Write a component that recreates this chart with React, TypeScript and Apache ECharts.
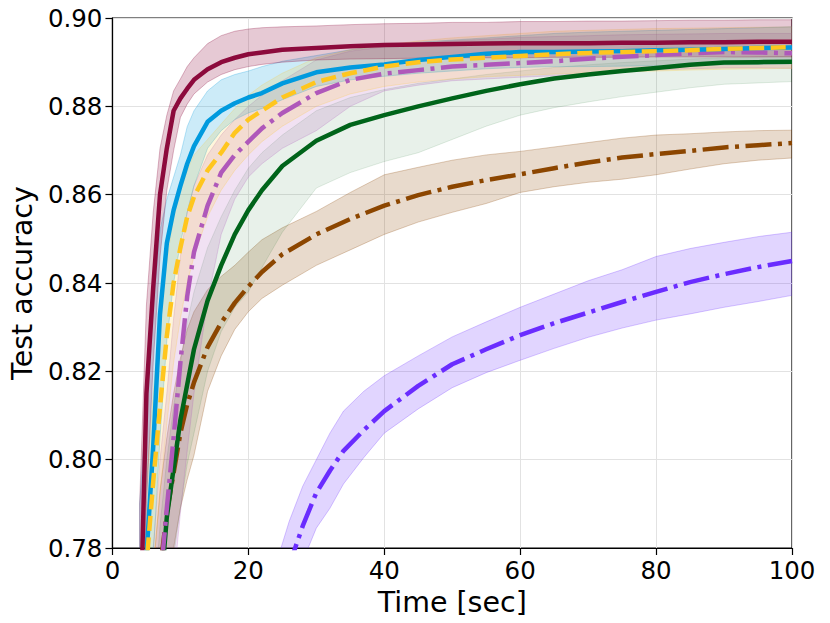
import React, { useEffect, useRef } from "react";
import * as echarts from "echarts";

// Shared time grid (sec) for the first six methods
const X = [4, 5, 6, 7, 8, 9, 10, 11, 12, 14, 16, 18, 20, 22, 25, 30, 35, 40, 45, 50, 55, 60, 65, 70, 75, 80, 85, 90, 95, 100];

const maroonMean = [0.755, 0.815, 0.839, 0.860, 0.8705, 0.879, 0.8818, 0.884, 0.886, 0.8884, 0.890, 0.891, 0.8918, 0.8922, 0.8928, 0.8932, 0.8936, 0.8939, 0.894, 0.8941, 0.8942, 0.8943, 0.8943, 0.8943, 0.8944, 0.8944, 0.8945, 0.8945, 0.8946, 0.8946];
const maroonHi = [0.79, 0.835, 0.856, 0.8705, 0.878, 0.8835, 0.8862, 0.889, 0.891, 0.8942, 0.896, 0.897, 0.8975, 0.8978, 0.898, 0.8982, 0.8985, 0.8987, 0.8988, 0.899, 0.899, 0.8992, 0.8992, 0.8993, 0.8993, 0.8994, 0.8995, 0.8995, 0.8996, 0.8996];
const maroonLo = [0.73, 0.79, 0.822, 0.846, 0.861, 0.870, 0.8775, 0.8805, 0.8828, 0.8855, 0.8872, 0.8883, 0.889, 0.8895, 0.89, 0.8905, 0.8907, 0.8908, 0.8909, 0.891, 0.891, 0.891, 0.8911, 0.8911, 0.8911, 0.8912, 0.8912, 0.8912, 0.8912, 0.8912];

const blueMean = [0.755, 0.778, 0.803, 0.833, 0.849, 0.8565, 0.862, 0.867, 0.871, 0.8765, 0.879, 0.8807, 0.882, 0.883, 0.8852, 0.8877, 0.8888, 0.8895, 0.8905, 0.8912, 0.8919, 0.8923, 0.8923, 0.8924, 0.8925, 0.8927, 0.8928, 0.893, 0.8932, 0.8933];
const blueHi = [0.79, 0.812, 0.835, 0.852, 0.859, 0.864, 0.869, 0.8754, 0.879, 0.8835, 0.886, 0.8872, 0.888, 0.889, 0.8902, 0.8915, 0.8928, 0.8938, 0.8945, 0.895, 0.8955, 0.896, 0.8965, 0.8968, 0.897, 0.8972, 0.8974, 0.8976, 0.8978, 0.898];
const blueLo = [0.73, 0.755, 0.778, 0.805, 0.827, 0.840, 0.849, 0.856, 0.862, 0.8705, 0.8745, 0.877, 0.8785, 0.8795, 0.8815, 0.8845, 0.886, 0.8868, 0.8875, 0.888, 0.8885, 0.8888, 0.889, 0.889, 0.8891, 0.8892, 0.8893, 0.8894, 0.8895, 0.8896];

const yellowMean = [0.745, 0.776, 0.795, 0.812, 0.828, 0.840, 0.848, 0.855, 0.8595, 0.8655, 0.8695, 0.874, 0.877, 0.879, 0.882, 0.8855, 0.8875, 0.889, 0.89, 0.8906, 0.891, 0.8914, 0.8918, 0.8921, 0.8923, 0.8925, 0.8927, 0.893, 0.8932, 0.8934];
const yellowHi = [0.77, 0.795, 0.815, 0.832, 0.845, 0.855, 0.861, 0.8655, 0.869, 0.8725, 0.876, 0.8795, 0.8825, 0.8848, 0.8875, 0.891, 0.8928, 0.8938, 0.8948, 0.8955, 0.896, 0.8965, 0.897, 0.8972, 0.8974, 0.8976, 0.8977, 0.8978, 0.8979, 0.898];
const yellowLo = [0.72, 0.755, 0.775, 0.792, 0.808, 0.822, 0.832, 0.84, 0.846, 0.855, 0.861, 0.8655, 0.869, 0.872, 0.8755, 0.88, 0.8828, 0.8845, 0.8855, 0.8862, 0.8867, 0.887, 0.8873, 0.8876, 0.8878, 0.888, 0.8882, 0.8884, 0.8885, 0.8886];

const purpleMean = [0.70, 0.725, 0.75, 0.772, 0.789, 0.805, 0.822, 0.837, 0.847, 0.8575, 0.865, 0.869, 0.872, 0.875, 0.8785, 0.883, 0.886, 0.8874, 0.8882, 0.889, 0.8894, 0.8898, 0.8902, 0.8908, 0.8912, 0.8916, 0.892, 0.8923, 0.8922, 0.892];
const purpleHi = [0.73, 0.755, 0.78, 0.80, 0.815, 0.832, 0.846, 0.856, 0.862, 0.869, 0.8735, 0.877, 0.88, 0.8825, 0.8858, 0.8905, 0.8925, 0.8935, 0.8942, 0.8948, 0.8952, 0.8956, 0.8958, 0.896, 0.8962, 0.8963, 0.8964, 0.8965, 0.8965, 0.8965];
const purpleLo = [0.67, 0.69, 0.71, 0.735, 0.755, 0.772, 0.788, 0.802, 0.815, 0.836, 0.851, 0.859, 0.864, 0.867, 0.8705, 0.8745, 0.88, 0.8835, 0.8848, 0.8858, 0.8862, 0.8866, 0.8869, 0.8874, 0.8878, 0.8882, 0.8885, 0.8887, 0.8887, 0.8886];

const greenMean = [0.69, 0.715, 0.745, 0.768, 0.787, 0.798, 0.809, 0.817, 0.825, 0.836, 0.844, 0.851, 0.8565, 0.861, 0.8665, 0.8722, 0.8758, 0.878, 0.88, 0.8818, 0.8835, 0.885, 0.8863, 0.8872, 0.888, 0.8887, 0.8894, 0.8899, 0.89, 0.8901];
const greenHi = [0.71, 0.74, 0.765, 0.785, 0.80, 0.812, 0.822, 0.831, 0.838, 0.848, 0.855, 0.861, 0.866, 0.8695, 0.8735, 0.879, 0.882, 0.8838, 0.8852, 0.8862, 0.8872, 0.888, 0.8888, 0.8894, 0.8899, 0.8903, 0.8907, 0.891, 0.8912, 0.8913];
const greenLo = [0.66, 0.69, 0.72, 0.745, 0.765, 0.778, 0.789, 0.799, 0.806, 0.82, 0.829, 0.8345, 0.838, 0.8435, 0.8515, 0.8615, 0.865, 0.8675, 0.8695, 0.8725, 0.8755, 0.878, 0.8797, 0.881, 0.8822, 0.8832, 0.8842, 0.885, 0.8853, 0.8856];

const brownMean = [0.70, 0.725, 0.755, 0.775, 0.788, 0.797, 0.806, 0.8125, 0.8175, 0.8255, 0.831, 0.8355, 0.8392, 0.8425, 0.8465, 0.851, 0.8545, 0.8575, 0.8599, 0.8618, 0.8633, 0.8646, 0.866, 0.8673, 0.8684, 0.8692, 0.8699, 0.8707, 0.8712, 0.8717];
const brownHi = [0.72, 0.745, 0.775, 0.793, 0.805, 0.815, 0.823, 0.8295, 0.8335, 0.8385, 0.8415, 0.844, 0.847, 0.8498, 0.8525, 0.8562, 0.8605, 0.8645, 0.8662, 0.8678, 0.869, 0.8698, 0.8708, 0.8718, 0.8728, 0.8735, 0.8738, 0.8742, 0.8745, 0.8746];
const brownLo = [0.68, 0.705, 0.735, 0.757, 0.77, 0.78, 0.789, 0.7955, 0.801, 0.8155, 0.8235, 0.8295, 0.8335, 0.8365, 0.8395, 0.844, 0.8475, 0.851, 0.8538, 0.856, 0.858, 0.8605, 0.8618, 0.8628, 0.8635, 0.8645, 0.8658, 0.867, 0.8678, 0.8683];

// Slowest method has its own time grid
const XV = [24, 26, 28, 30, 32, 34, 37, 40, 45, 50, 55, 60, 65, 70, 75, 80, 85, 90, 95, 100];
const violetMean = [0.766, 0.776, 0.785, 0.7925, 0.7975, 0.802, 0.8067, 0.811, 0.8167, 0.8216, 0.825, 0.8282, 0.8309, 0.8333, 0.8357, 0.838, 0.8402, 0.842, 0.8436, 0.845];
const violetHi = [0.776, 0.786, 0.794, 0.80, 0.806, 0.811, 0.8155, 0.819, 0.8235, 0.8278, 0.8312, 0.8345, 0.8375, 0.8405, 0.843, 0.846, 0.8478, 0.8492, 0.8505, 0.8515];
const violetLo = [0.758, 0.768, 0.777, 0.7845, 0.789, 0.7945, 0.8005, 0.806, 0.8115, 0.8163, 0.8197, 0.8225, 0.8252, 0.8277, 0.8298, 0.8316, 0.833, 0.8345, 0.8358, 0.8372];

const yTicks = [0.78, 0.8, 0.82, 0.84, 0.86, 0.88, 0.9];

const DASHED = [15, 6.5];
const DASHDOT = [26, 6.5, 4, 6.5];

type Spec = { key: string; xs: number[]; mean: number[]; lo: number[]; hi: number[]; rgb: [number, number, number]; alpha: number; dash: any };

const SPECS: Spec[] = [
  { key: "violet", xs: XV, mean: violetMean, lo: violetLo, hi: violetHi, rgb: [106, 44, 255], alpha: 0.2, dash: DASHDOT },
  { key: "brown", xs: X, mean: brownMean, lo: brownLo, hi: brownHi, rgb: [140, 70, 0], alpha: 0.2, dash: DASHDOT },
  { key: "green", xs: X, mean: greenMean, lo: greenLo, hi: greenHi, rgb: [0, 100, 26], alpha: 0.09, dash: "solid" },
  { key: "purple", xs: X, mean: purpleMean, lo: purpleLo, hi: purpleHi, rgb: [175, 88, 186], alpha: 0.18, dash: DASHDOT },
  { key: "blue", xs: X, mean: blueMean, lo: blueLo, hi: blueHi, rgb: [0, 154, 222], alpha: 0.2, dash: "solid" },
  { key: "yellow", xs: X, mean: yellowMean, lo: yellowLo, hi: yellowHi, rgb: [255, 198, 30], alpha: 0.16, dash: DASHED },
  { key: "maroon", xs: X, mean: maroonMean, lo: maroonLo, hi: maroonHi, rgb: [140, 10, 60], alpha: 0.22, dash: "solid" },
];

const rgba = (c: [number, number, number], a: number) => `rgba(${c[0]},${c[1]},${c[2]},${a})`;

function bandSeries(s: Spec) {
  return {
    type: "custom",
    name: s.key + "-band",
    silent: true,
    z: 1,
    data: s.xs.map((x, i) => [x, s.lo[i], s.hi[i]]),
    encode: { x: 0, y: [1, 2] },
    renderItem: (params: any, api: any) => {
      if (params.dataIndex !== 0) return null;
      const upper = s.xs.map((x, i) => api.coord([x, s.hi[i]]));
      const lower = s.xs.map((x, i) => api.coord([x, s.lo[i]])).reverse();
      const cs = params.coordSys;
      return {
        type: "group",
        clipPath: { type: "rect", shape: { x: cs.x, y: cs.y, width: cs.width, height: cs.height } },
        children: [
          {
            type: "polygon",
            shape: { points: upper.concat(lower) },
            style: { fill: rgba(s.rgb, s.alpha), stroke: rgba(s.rgb, Math.min(1, s.alpha * 1.3)), lineWidth: 1 },
          },
        ],
      };
    },
  };
}

function buildSeries() {
  const bands = SPECS.map(bandSeries);
  const lines = SPECS.map((s) => ({
    type: "line",
    name: s.key,
    data: s.xs.map((x, i) => [x, s.mean[i]]),
    symbol: "none",
    silent: true,
    clip: true,
    lineStyle: { width: 4.5, color: rgba(s.rgb, 1), type: s.dash, cap: "butt", join: "round" },
    z: 3,
  }));
  return [...bands, ...lines];
}

export default function App() {
  const ref = useRef<HTMLDivElement>(null);
  useEffect(() => {
    document.body.style.margin = "0";
    if (!ref.current) return;
    const chart = echarts.init(ref.current, undefined, { renderer: "svg" });
    const axisCommon = {
      axisLine: { show: true, onZero: false, lineStyle: { color: "#000", width: 1.2 } },
      axisTick: { show: true, inside: false, length: 7, lineStyle: { color: "#000", width: 1.2 } },
      splitLine: { show: true, lineStyle: { color: "#e2e2e2", width: 1 } },
      nameTextStyle: { fontSize: 28.5, color: "#000", fontFamily: "DejaVu Sans" },
    };
    chart.setOption({
      animation: false,
      backgroundColor: "#ffffff",
      textStyle: { fontFamily: "DejaVu Sans" },
      grid: { left: 112, right: 38, top: 18, bottom: 75, show: true, borderColor: "#000", borderWidth: 1.2, backgroundColor: "transparent" },
      xAxis: {
        type: "value",
        min: 0,
        max: 100,
        interval: 20,
        name: "Time [sec]",
        nameLocation: "middle",
        nameGap: 40,
        ...axisCommon,
        axisLabel: { fontSize: 24.5, color: "#000", margin: 10, fontFamily: "DejaVu Sans" },
      },
      yAxis: {
        type: "value",
        min: yTicks[0],
        max: yTicks[yTicks.length - 1],
        interval: 0.02,
        name: "Test accuracy",
        nameLocation: "middle",
        nameGap: 51,
        ...axisCommon,
        axisLabel: { fontSize: 24.5, color: "#000", margin: 10, fontFamily: "DejaVu Sans", formatter: (v: number) => v.toFixed(2) },
      },
      series: buildSeries(),
    });
    return () => chart.dispose();
  }, []);
  return <div ref={ref} style={{ width: 830, height: 623 }} />;
}
